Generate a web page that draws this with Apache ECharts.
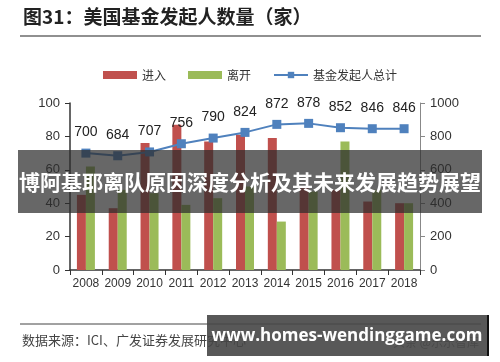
<!DOCTYPE html>
<html><head><meta charset="utf-8">
<script src="https://cdn.jsdelivr.net/npm/echarts@6/dist/echarts.min.js"></script>
<style>html,body{margin:0;padding:0;background:#fff}#c{width:500px;height:362px}</style>
</head><body><div id="c"></div>
<script>
const years = ['2008','2009','2010','2011','2012','2013','2014','2015','2016','2017','2018'];
const entered = [45, 37, 76, 87, 77, 81, 79, 49, 48, 41, 40];
const left = [62, 48, 46, 39, 43, 50, 29, 47, 77, 48, 40];
const total = [700, 684, 707, 756, 790, 824, 872, 878, 852, 846, 846];
const leftTicks = [0, 20, 40, 60, 80, 100];
const rightTicks = [0, 200, 400, 600, 800, 1000];

const chart = echarts.init(document.getElementById('c'), null, {renderer:'canvas'});
const axisFont = {color:'#333', fontSize:13, fontFamily:'Liberation Sans, Arial'};
chart.setOption({
  animation:false,
  backgroundColor:'#fff',
  grid:{left:70, right:80, top:103, bottom:92, containLabel:false},
  legend:{
    top:64, left:'center', itemGap:22,
    textStyle:{fontSize:12, color:'#333', fontFamily:'Noto Sans CJK SC'},
    data:[
      {name:'进入', icon:'rect', itemStyle:{color:'#c0504d'}},
      {name:'离开', icon:'rect', itemStyle:{color:'#9bbb59'}},
      {name:'基金发起人总计'}
    ],
    itemWidth:34, itemHeight:8
  },
  xAxis:{
    type:'category', data:years, boundaryGap:true,
    axisLine:{lineStyle:{color:'#333', width:1.5}},
    axisTick:{show:true, length:5, lineStyle:{color:'#333'}},
    axisLabel:{interval:0, margin:8, fontSize:12, color:'#333', fontFamily:'Liberation Sans Narrow, Liberation Sans, Arial'}
  },
  yAxis:[
    {type:'value', min:0, max:100, interval:20,
     axisLine:{show:true, lineStyle:{color:'#333', width:1.5}},
     axisTick:{show:true, length:5, lineStyle:{color:'#333'}},
     splitLine:{show:false},
     axisLabel:Object.assign({margin:10, formatter:v=>leftTicks.includes(v)?String(v):''}, axisFont)},
    {type:'value', min:0, max:1000, interval:200, position:'right',
     axisLine:{show:true, lineStyle:{color:'#888', width:1}},
     axisTick:{show:true, length:5, lineStyle:{color:'#888'}},
     splitLine:{show:false},
     axisLabel:Object.assign({margin:10, formatter:v=>rightTicks.includes(v)?String(v):''}, axisFont)}
  ],
  series:[
    {name:'进入', type:'bar', data:entered, barWidth:9, barGap:'0%', itemStyle:{color:'#c0504d'}},
    {name:'离开', type:'bar', data:left, barWidth:9, itemStyle:{color:'#9bbb59'}},
    {name:'基金发起人总计', type:'line', yAxisIndex:1, data:total,
     symbol:'rect', symbolSize:9,
     lineStyle:{color:'#4f81bd', width:2}, itemStyle:{color:'#4f81bd'},
     label:{show:true, position:'top', distance:9, fontSize:14, color:'#222', fontFamily:'Liberation Sans, Arial'}}
  ],
  graphic:[
    {type:'text', left:23, top:7, style:{text:'图31：美国基金发起人数量（家）', font:'bold 19px "Noto Sans CJK SC"', fill:'#222'}},
    {type:'line', shape:{x1:20, y1:36, x2:481, y2:36}, style:{stroke:'#222', lineWidth:1.2}},
    {type:'line', shape:{x1:20, y1:324, x2:481, y2:324}, style:{stroke:'#444', lineWidth:1}},
    {type:'text', left:22, top:334, style:{text:'数据来源：ICI、广发证券发展研究中心', font:'13px "Noto Sans CJK SC"', fill:'#444'}},
    {type:'text', left:393, top:336, style:{text:'头条 @乐乐智库', font:'12px "Noto Sans CJK SC"', fill:'#666'}},
    {type:'rect', shape:{x:18, y:150, width:464, height:63}, style:{fill:'rgba(45,45,45,0.72)'}, z:100},
    {type:'text', x:250, y:182, style:{text:'博阿基耶离队原因深度分析及其未来发展趋势展望', font:'bold 21px "Noto Sans CJK SC"', fill:'#fff', textAlign:'center', textVerticalAlign:'middle'}, z:101},
    {type:'rect', shape:{x:207, y:315, width:281, height:41}, style:{fill:'rgba(70,70,70,0.9)'}, z:100},
    {type:'line', shape:{x1:488, y1:315, x2:488, y2:356}, style:{stroke:'#111', lineWidth:2}, z:101},
    {type:'text', x:347, y:336, style:{text:'www.homes-wendinggame.com', font:'bold 17px "Open Sans", "DejaVu Sans"', fill:'#fff', textAlign:'center', textVerticalAlign:'middle'}, z:101}
  ]
});
</script></body></html>
